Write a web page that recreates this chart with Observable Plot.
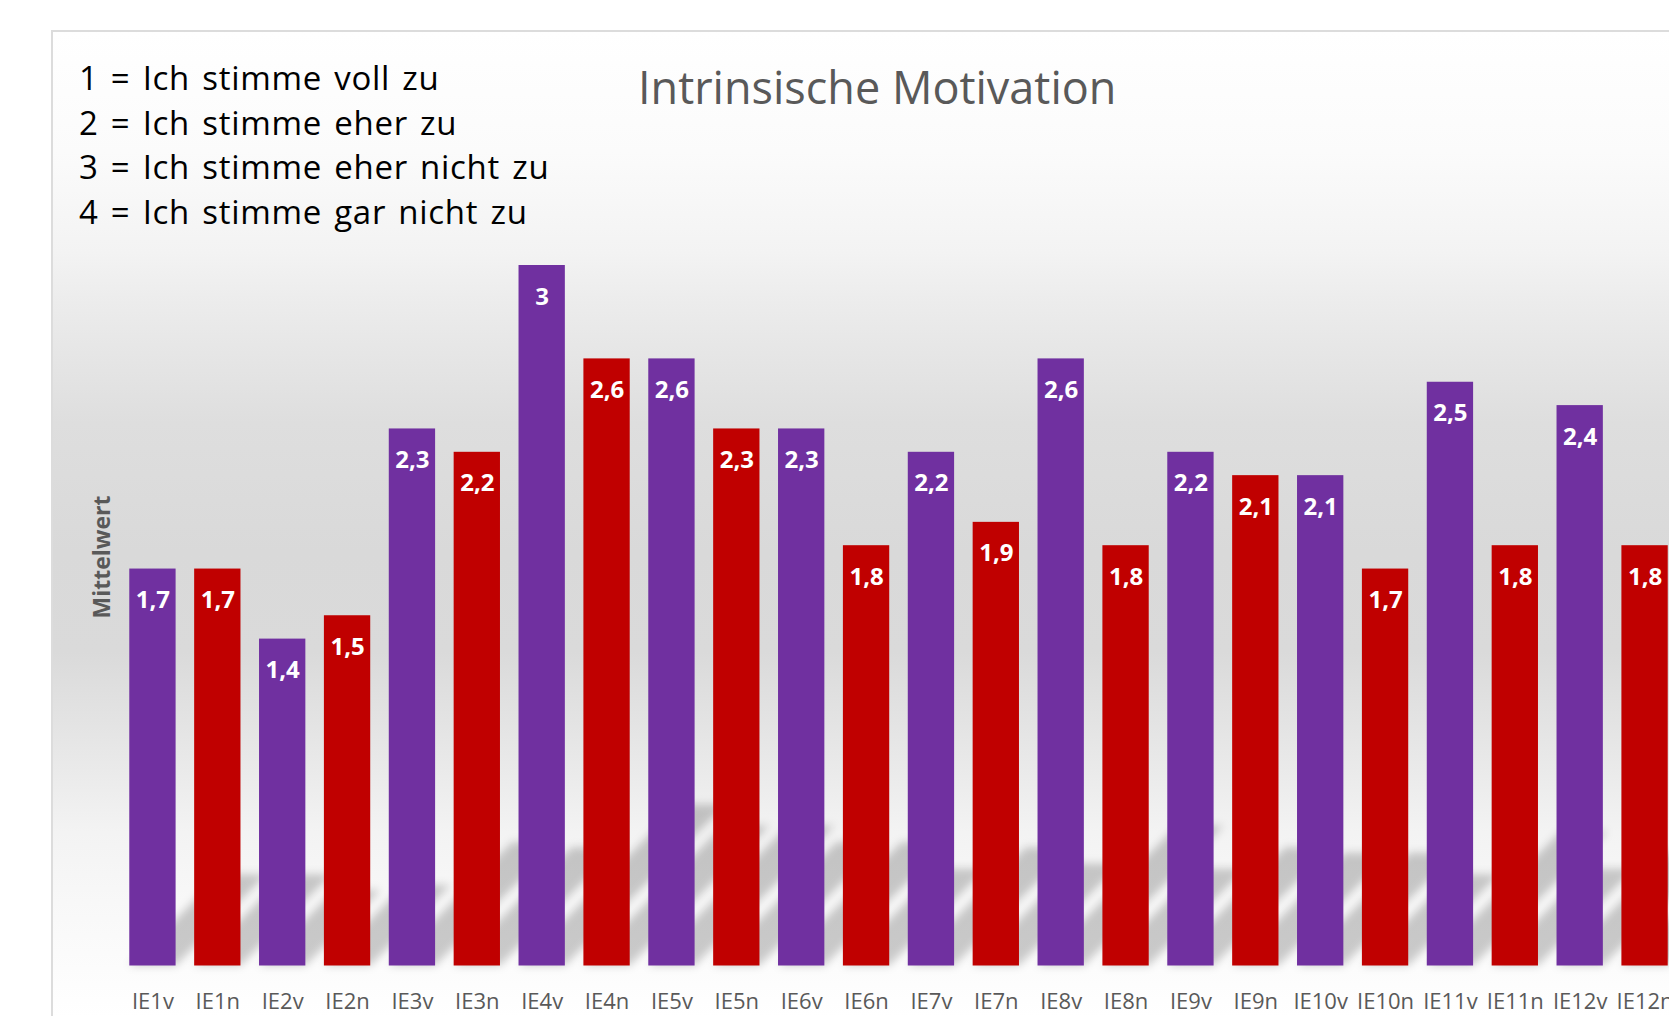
<!DOCTYPE html>
<html>
<head>
<meta charset="utf-8">
<script src="https://cdn.jsdelivr.net/npm/d3@7"></script>
<script src="https://cdn.jsdelivr.net/npm/@observablehq/plot@0.6"></script>
<style>
  html, body { margin: 0; padding: 0; background: #ffffff; overflow: hidden; width: 1669px; height: 1016px; }
  #wrap { position: relative; width: 1669px; height: 1016px; overflow: hidden; font-family: "Open Sans", sans-serif; }
  #bg {
    position: absolute; left: 51px; top: 30px; width: 1700px; height: 986px;
    border-left: 2px solid #dcdcdc; border-top: 2px solid #dcdcdc;
    background: linear-gradient(to bottom,
      #ffffff 0px, #fbfbfb 120px, #f3f3f3 220px, #ececec 270px, #dedede 390px,
      #d9d9d9 520px, #dadada 620px, #e6e6e6 710px, #f3f3f3 800px, #f8f8f8 870px, #ffffff 986px);
  }
  #chart { position: absolute; left: 0; top: 0; width: 1677px; height: 1016px; }
  #chart svg { max-width: none !important; }
  #title { position: absolute; left: 638px; top: 56.5px; font-size: 45px; line-height: 60px; color: #595959; white-space: nowrap; }
  #legend { position: absolute; left: 79px; top: 56px; font-size: 33px; line-height: 44.7px; word-spacing: 3px; letter-spacing: 0.7px; color: #000000; white-space: pre; }
  #ylabel { position: absolute; left: 101px; top: 557px; transform: translate(-50%, -50%) rotate(-90deg); font-size: 23px; line-height: 24px; font-weight: bold; color: #595959; white-space: nowrap; }
</style>
</head>
<body>
<div id="wrap">
  <div id="bg"></div>
  <div id="chart"></div>
  <div id="title">Intrinsische Motivation</div>
  <div id="legend"></div>
  <div id="ylabel"></div>
</div>
<script>
// ---- data ----
const categories = ["IE1v","IE1n","IE2v","IE2n","IE3v","IE3n","IE4v","IE4n","IE5v","IE5n","IE6v","IE6n",
                    "IE7v","IE7n","IE8v","IE8n","IE9v","IE9n","IE10v","IE10n","IE11v","IE11n","IE12v","IE12n"];
const values = [1.7,1.7,1.4,1.5,2.3,2.2,3.0,2.6,2.6,2.3,2.3,1.8,
                2.2,1.9,2.6,1.8,2.2,2.1,2.1,1.7,2.5,1.8,2.4,1.8];
const legendLines = ["1 = Ich stimme voll zu","2 = Ich stimme eher zu","3 = Ich stimme eher nicht zu","4 = Ich stimme gar nicht zu"];
const yLabel = "Mittelwert";

document.getElementById("legend").textContent = legendLines.join("\n");
document.getElementById("ylabel").textContent = yLabel;

const data = categories.map((c, i) => ({cat: c, value: values[i], group: c.endsWith("v") ? "v" : "n"}));
const fmt = v => String(v).replace(".", ",");

const chart = Plot.plot({
  width: 1677,
  height: 1016,
  marginLeft: 120,
  marginRight: 0,
  marginTop: 31.5,
  marginBottom: 50.5,
  style: {background: "transparent", fontFamily: "Open Sans, sans-serif", overflow: "visible", maxWidth: "none"},
  x: {domain: categories, paddingInner: 0.286, paddingOuter: 0.143, round: false, label: null},
  y: {domain: [0, 4], axis: null},
  color: {domain: ["v", "n"], range: ["#7030A0", "#C00000"]},
  marks: [
    Plot.barY(data, {x: "cat", y: "value", fill: "#000"}),
    Plot.barY(data, {x: "cat", y: "value", fill: "group"}),
    Plot.text(data, {x: "cat", y: "value", text: d => fmt(d.value), lineAnchor: "bottom", dy: 39,
      fill: "white", fontSize: 24, fontWeight: "bold"}),
    Plot.axisX({tickSize: 0, tickPadding: 27, fontSize: 22, fill: "#595959", label: null})
  ]
});
chart.style.maxWidth = "none";

// perspective shadows derived from the first (shadow) bar mark's scaled geometry
const NS = "http://www.w3.org/2000/svg";
const defs = document.createElementNS(NS, "defs");
defs.innerHTML = '<filter id="shBlur" x="-50%" y="-50%" width="200%" height="200%"><feGaussianBlur stdDeviation="4.5"/></filter>';
chart.insertBefore(defs, chart.firstChild);
const sg = chart.querySelectorAll('g[aria-label="bar"]')[0];
if (sg) {
  sg.setAttribute("filter", "url(#shBlur)");
  sg.setAttribute("fill-opacity", "0.2");
  sg.querySelectorAll("rect").forEach(r => {
    const x = +r.getAttribute("x"), y = +r.getAttribute("y");
    const w = +r.getAttribute("width"), h = +r.getAttribute("height");
    const y0 = y + h, sh = 0.23 * h, dx = sh * 1.0;
    const p = document.createElementNS(NS, "path");
    p.setAttribute("d", `M${x},${y0}L${x + w},${y0}L${x + w + dx},${y0 - sh}L${x + dx},${y0 - sh}Z`);
    r.replaceWith(p);
  });
}
document.getElementById("chart").appendChild(chart);
</script>
</body>
</html>
